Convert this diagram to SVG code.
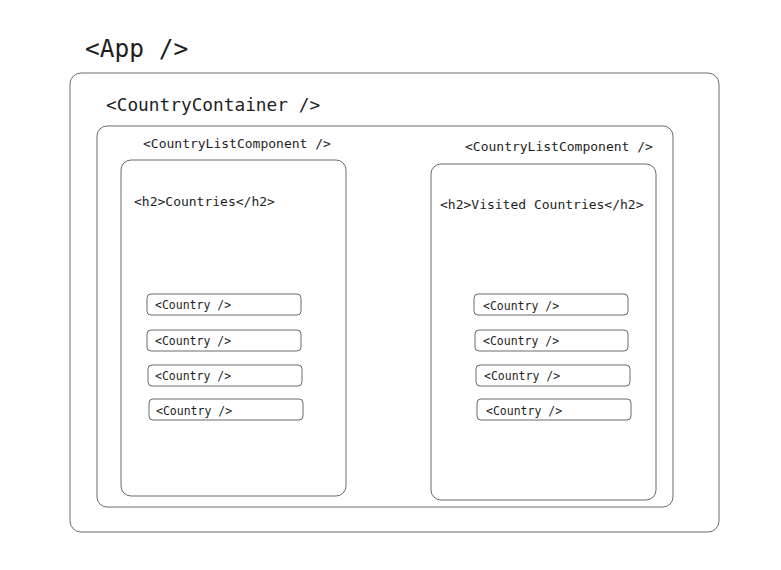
<svg xmlns="http://www.w3.org/2000/svg" width="781" height="570" viewBox="0 0 781 570">
<style>
.box{fill:none;stroke:#6a6a6a;stroke-width:1}
.t{font-family:"DejaVu Sans Mono","Liberation Mono",monospace;fill:#1e1e1e}
.c{font-size:11.5px}
.l{font-size:13px}
</style>
<rect width="781" height="570" fill="#ffffff"/>
<g id="app">
<text class="t" x="85" y="57" font-size="24.5">&lt;App /&gt;</text>
<rect class="box" x="70" y="73" width="649" height="459" rx="11"/>
</g>
<g id="country-container">
<text class="t" x="106" y="111" font-size="17.8">&lt;CountryContainer /&gt;</text>
<rect class="box" x="97" y="126" width="576" height="381" rx="10"/>
</g>
<g id="list-left">
<text class="t l" x="143" y="148">&lt;CountryListComponent /&gt;</text>
<rect class="box" x="121" y="160" width="225" height="336" rx="10"/>
<text class="t l" x="134" y="206">&lt;h2&gt;Countries&lt;/h2&gt;</text>
</g>
<g id="list-right">
<text class="t l" x="465" y="151">&lt;CountryListComponent /&gt;</text>
<rect class="box" x="431" y="164" width="225" height="336" rx="10"/>
<text class="t l" x="440" y="209">&lt;h2&gt;Visited Countries&lt;/h2&gt;</text>
</g>
<g id="country-l1"><rect class="box" x="147" y="294" width="154" height="21" rx="4"/><text class="t c" x="155" y="309">&lt;Country /&gt;</text></g>
<g id="country-l2"><rect class="box" x="147" y="330" width="154" height="21" rx="4"/><text class="t c" x="155" y="345">&lt;Country /&gt;</text></g>
<g id="country-l3"><rect class="box" x="148" y="365" width="154" height="21" rx="4"/><text class="t c" x="155" y="380">&lt;Country /&gt;</text></g>
<g id="country-l4"><rect class="box" x="149" y="399" width="154" height="21" rx="4"/><text class="t c" x="156" y="415">&lt;Country /&gt;</text></g>
<g id="country-r1"><rect class="box" x="474" y="294" width="154" height="21" rx="4"/><text class="t c" x="483" y="310">&lt;Country /&gt;</text></g>
<g id="country-r2"><rect class="box" x="475" y="330" width="153" height="21" rx="4"/><text class="t c" x="483" y="345">&lt;Country /&gt;</text></g>
<g id="country-r3"><rect class="box" x="476" y="365" width="154" height="21" rx="4"/><text class="t c" x="484" y="380">&lt;Country /&gt;</text></g>
<g id="country-r4"><rect class="box" x="477" y="399" width="154" height="21" rx="4"/><text class="t c" x="486" y="415">&lt;Country /&gt;</text></g>
<g id="connectors"></g>
</svg>
